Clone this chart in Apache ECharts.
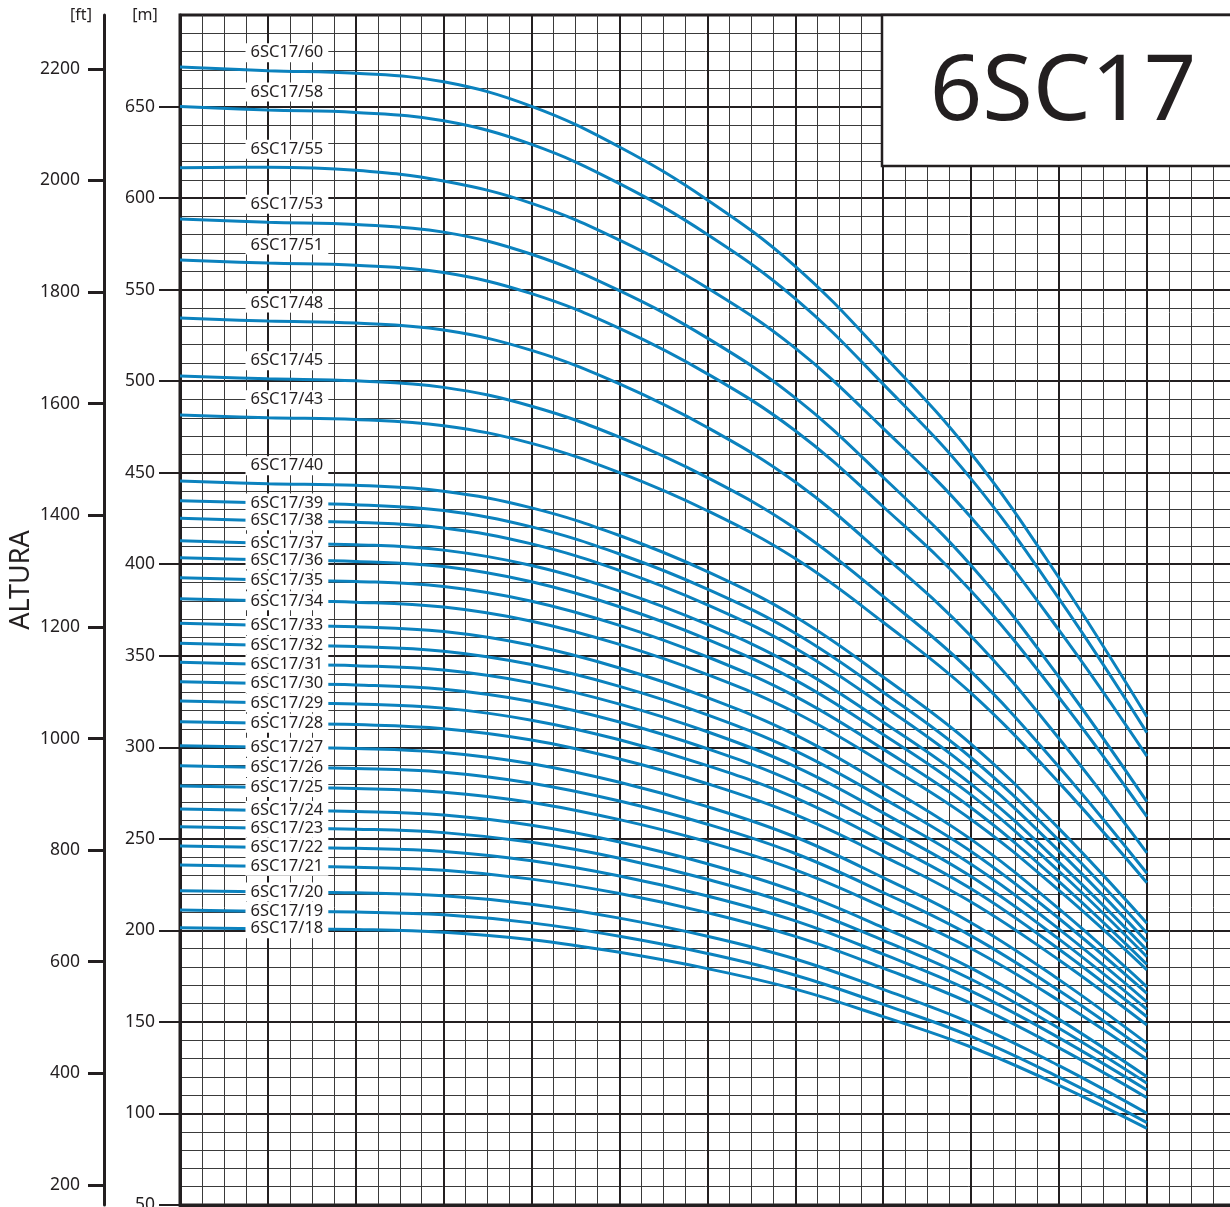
<!DOCTYPE html>
<html>
<head>
<meta charset="utf-8">
<script src="https://cdn.jsdelivr.net/npm/echarts@6/dist/echarts.min.js"></script>
<style>
html,body{margin:0;padding:0;background:#fff;}
#chart{width:1230px;height:1207px;}
</style>
</head>
<body>
<div id="chart"></div>
<script>
// ---- data (flow in grid units, head in metres) ----
const flow = [0, 2, 4, 6, 8, 10, 12, 14, 16, 18, 20, 22];

const h60 = [671.6, 669.6, 668.2, 663.5, 650.1, 627.9, 599.0, 562.7, 514.3, 460.5, 392.6, 316.7];
const h58 = [650.0, 648.1, 646.8, 642.2, 629.3, 607.9, 580.1, 545.1, 498.4, 446.6, 381.2, 308.0];
const h55 = [616.6, 616.9, 615.2, 609.3, 597.1, 577.0, 550.9, 518.0, 474.2, 425.5, 364.0, 295.2];
const h53 = [588.6, 586.8, 585.6, 581.4, 569.3, 549.4, 523.5, 490.9, 447.5, 399.3, 338.4, 270.3];
const h51 = [566.2, 564.5, 563.3, 559.3, 547.8, 528.8, 504.0, 472.9, 431.4, 385.4, 327.2, 262.1];
const h48 = [534.5, 532.8, 531.7, 527.9, 516.8, 498.5, 474.7, 444.9, 405.0, 360.7, 304.8, 242.3];
const h45 = [502.8, 501.3, 500.2, 496.6, 486.3, 469.4, 447.3, 419.5, 382.4, 341.3, 289.3, 231.2];
const h43 = [481.5, 480.0, 479.1, 475.7, 466.0, 450.0, 429.2, 403.1, 368.3, 329.6, 280.7, 226.0];
const h40 = [445.4, 444.0, 443.1, 439.9, 430.8, 415.7, 396.0, 371.3, 338.4, 301.8, 255.6, 203.9];
const h39 = [434.7, 433.4, 432.5, 429.3, 420.4, 405.6, 386.4, 362.3, 330.1, 294.3, 249.1, 198.6];
const h38 = [425.1, 423.8, 422.9, 419.8, 411.1, 396.6, 377.8, 354.1, 322.6, 287.5, 243.3, 193.8];
const h37 = [412.8, 411.5, 410.7, 407.7, 399.3, 385.3, 367.1, 344.2, 313.7, 279.9, 237.1, 189.3];
const h36 = [403.6, 402.4, 401.5, 398.7, 390.4, 376.8, 359.0, 336.7, 307.0, 274.0, 232.3, 185.6];
const h35 = [392.6, 391.4, 390.6, 387.8, 379.8, 366.6, 349.4, 327.8, 299.0, 267.0, 226.6, 181.4];
const h34 = [381.2, 380.0, 379.3, 376.6, 368.9, 356.2, 339.7, 319.0, 291.3, 260.6, 221.8, 178.4];
const h33 = [367.7, 366.6, 365.8, 363.2, 355.7, 343.3, 327.1, 306.8, 279.7, 249.7, 211.7, 169.2];
const h32 = [356.8, 355.7, 355.0, 352.5, 345.2, 333.3, 317.7, 298.1, 272.1, 243.1, 206.5, 165.6];
const h31 = [346.4, 345.3, 344.6, 342.2, 335.2, 323.6, 308.5, 289.5, 264.2, 236.1, 200.7, 161.0];
const h30 = [335.8, 334.8, 334.1, 331.7, 325.0, 313.8, 299.2, 280.9, 256.5, 229.4, 195.2, 156.9];
const h29 = [325.3, 324.3, 323.7, 321.4, 314.8, 304.1, 290.0, 272.4, 248.8, 222.7, 189.7, 152.8];
const h28 = [314.0, 313.1, 312.4, 310.2, 304.0, 293.6, 280.1, 263.2, 240.6, 215.5, 183.8, 148.3];
const h27 = [300.9, 300.0, 299.4, 297.2, 291.0, 280.9, 267.6, 251.0, 228.8, 204.2, 173.1, 138.3];
const h26 = [289.9, 289.0, 288.4, 286.4, 280.4, 270.7, 258.0, 242.0, 220.7, 197.0, 167.1, 133.7];
const h25 = [278.9, 278.0, 277.5, 275.5, 269.9, 260.5, 248.4, 233.1, 212.7, 190.1, 161.6, 129.6];
const h24 = [266.3, 265.5, 264.9, 263.0, 257.4, 248.3, 236.4, 221.4, 201.5, 179.4, 151.4, 120.1];
const h23 = [256.6, 255.8, 255.3, 253.4, 248.1, 239.4, 227.9, 213.6, 194.5, 173.3, 146.5, 116.5];
const h22 = [246.1, 245.3, 244.8, 243.1, 238.0, 229.7, 218.8, 205.2, 187.0, 166.8, 141.3, 112.8];
const h21 = [235.7, 235.0, 234.5, 232.8, 228.0, 220.1, 209.7, 196.7, 179.4, 160.1, 135.8, 108.6];
const h20 = [221.7, 221.0, 220.5, 218.9, 214.3, 206.7, 196.8, 184.4, 167.8, 149.4, 126.1, 100.1];
const h19 = [211.1, 210.4, 210.0, 208.5, 204.1, 196.8, 187.4, 175.5, 159.6, 142.1, 119.8, 95.0];
const h18 = [201.5, 200.9, 200.5, 199.0, 194.9, 188.0, 179.1, 167.9, 152.9, 136.3, 115.4, 91.9];

const stages = [60, 58, 55, 53, 51, 48, 45, 43, 40, 39, 38, 37, 36, 35, 34, 33, 32, 31, 30, 29, 28, 27, 26, 25, 24, 23, 22, 21, 20, 19, 18];
const headLists = [h60, h58, h55, h53, h51, h48, h45, h43, h40, h39, h38, h37, h36, h35, h34, h33, h32, h31, h30, h29, h28, h27, h26, h25, h24, h23, h22, h21, h20, h19, h18];

const ftTicks = [200, 400, 600, 800, 1000, 1200, 1400, 1600, 1800, 2000, 2200];
const modelName = '6SC17';

// ---- styling ----
const INK = '#231f20';
const BLUE = '#0b82be';
const FONT = '"Noto Sans", "Open Sans", sans-serif';

const series = stages.map((st, k) => {
  const name = modelName + '/' + st;
  const heads = headLists[k];
  const above = st >= 40;
  return {
    type: 'line',
    name: name,
    smooth: 0.4,
    symbol: 'circle',
    symbolSize: 0,
    showSymbol: true,
    silent: true,
    z: 3,
    lineStyle: { color: BLUE, width: 3 },
    itemStyle: { color: BLUE },
    emphasis: { disabled: true },
    data: flow.map((f, i) => i === 1 ? {
      value: [f, heads[i]],
      label: {
        show: true,
        position: 'inside',
        offset: [19, above ? -18 : 0],
        formatter: name,
        color: INK,
        fontSize: 16.5,
        fontFamily: FONT,
        backgroundColor: '#fff',
        padding: [1, 5]
      }
    } : [f, heads[i]])
  };
});

const plain = v => String(Math.round(v));

const chart = echarts.init(document.getElementById('chart'), null, { renderer: 'canvas' });
chart.setOption({
  animation: false,
  backgroundColor: '#fff',
  grid: {
    left: 180, top: 15, width: 1054.8, height: 1190,
    containLabel: false, outerBoundsMode: 'none',
    show: true, backgroundColor: '#fff', borderColor: INK, borderWidth: 3
  },
  xAxis: {
    type: 'value', min: 0, max: 24, interval: 2,
    axisLine: { show: true, lineStyle: { color: INK, width: 3 } },
    axisTick: { show: false },
    axisLabel: { show: false },
    splitLine: { show: true, lineStyle: { color: INK, width: 2 } },
    minorTick: { show: false, splitNumber: 4 },
    minorSplitLine: { show: true, lineStyle: { color: '#3a3a3a', width: 1 } }
  },
  yAxis: [
    {
      type: 'value', min: 50, max: 700, interval: 50, position: 'left', offset: 0,
      axisLine: { show: true, lineStyle: { color: INK, width: 3 } },
      axisTick: { show: true, length: 21, lineStyle: { color: INK, width: 2 } },
      axisLabel: { show: true, showMaxLabel: false, margin: 25, color: INK, fontSize: 17.5, fontFamily: FONT, formatter: plain },
      splitLine: { show: true, lineStyle: { color: INK, width: 2 } },
      minorTick: { show: false, splitNumber: 5 },
      minorSplitLine: { show: true, lineStyle: { color: '#3a3a3a', width: 1 } }
    },
    {
      type: 'value', min: 50 / 0.3048, max: 700 / 0.3048, position: 'left', offset: 76,
      axisLine: { show: true, lineStyle: { color: INK, width: 3 } },
      axisTick: { show: true, length: 16, customValues: ftTicks, lineStyle: { color: INK, width: 3 } },
      axisLabel: { show: true, customValues: ftTicks, margin: 24, color: INK, fontSize: 17.5, fontFamily: FONT, formatter: plain },
      splitLine: { show: false },
      minorSplitLine: { show: false }
    }
  ],
  graphic: [
    { type: 'rect', z: 100, shape: { x: 882, y: 15, width: 360, height: 151 },
      style: { fill: '#fff', stroke: INK, lineWidth: 2.5 } },
    { type: 'text', z: 101, x: 1063, y: 94,
      style: { text: modelName, font: '92px ' + FONT, fill: INK, align: 'center', verticalAlign: 'middle' } },
    { type: 'text', z: 101, x: 81, y: 15,
      style: { text: '[ft]', font: '16px ' + FONT, fill: INK, align: 'center', verticalAlign: 'middle' } },
    { type: 'text', z: 101, x: 145, y: 15,
      style: { text: '[m]', font: '16px ' + FONT, fill: INK, align: 'center', verticalAlign: 'middle' } },
    { type: 'text', z: 101, x: 21, y: 580, rotation: Math.PI / 2,
      style: { text: 'ALTURA', font: '27px ' + FONT, fill: INK, align: 'center', verticalAlign: 'middle' } }
  ],
  series: series
});
</script>
</body>
</html>
